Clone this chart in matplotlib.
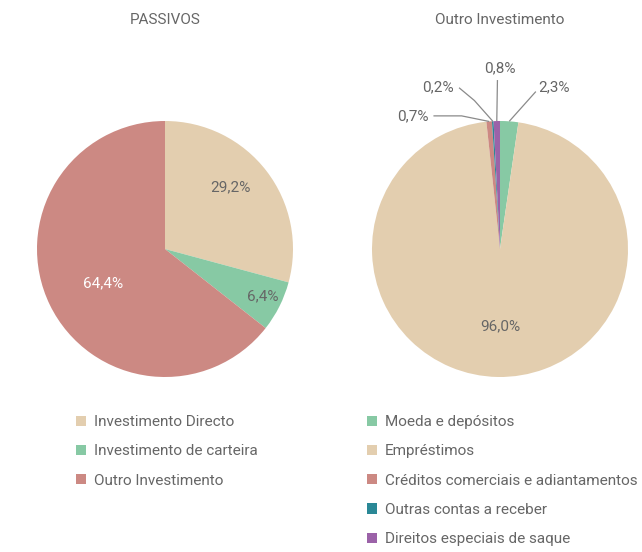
import matplotlib
matplotlib.use("Agg")
import matplotlib.pyplot as plt
from matplotlib.patches import Patch
import numpy as np

plt.rcParams["font.family"] = ["Roboto", "DejaVu Sans"]

# data
left_title = "PASSIVOS"
left_labels = ["Investimento Directo", "Investimento de carteira", "Outro Investimento"]
left_values = [29.2, 6.4, 64.4]

right_title = "Outro Investimento"
right_labels = ["Moeda e depósitos", "Empréstimos", "Créditos comerciais e adiantamentos",
                "Outras contas a receber", "Direitos especiais de saque"]
right_values = [2.3, 96.0, 0.7, 0.2, 0.8]

BEIGE = "#E3CEAF"
GREEN = "#87C9A4"
ROSE = "#CC8983"
TEAL = "#2A8896"
PURPLE = "#9B62A8"
TXT = "#666666"

left_colors = [BEIGE, GREEN, ROSE]
right_colors = [GREEN, BEIGE, ROSE, TEAL, PURPLE]

W, H = 642, 552
R = 128.0  # pie radius in px
SPAN = 1.5
FS = 11
fig = plt.figure(figsize=(W / 100, H / 100), dpi=100)


def pie_axes(cx, cy):
    # cx, cy in pixels from top-left
    size = 2 * SPAN * R
    return fig.add_axes([(cx - size / 2) / W, (H - cy - size / 2) / H, size / W, size / H])


def fix_axes(ax):
    ax.set_xlim(-SPAN, SPAN)
    ax.set_ylim(-SPAN, SPAN)
    ax.set_aspect("equal")
    ax.axis("off")


def fmt(v):
    return f"{v:.1f}".replace(".", ",") + "%"


def mid_angles(values):
    total = sum(values)
    out = []
    start = 90.0
    for v in values:
        span = v / total * 360
        out.append(np.deg2rad(start - span / 2))
        start -= span
    return out


# left pie
axl = pie_axes(165, 249)
axl.pie(left_values, colors=left_colors, startangle=90, counterclock=False,
        radius=1, wedgeprops=dict(linewidth=0))
fix_axes(axl)
l_pos = [(0.51, 0.48), (0.76, -0.37), (-0.48, -0.27)]
l_col = [TXT, TXT, "white"]
for (x, y), v, c in zip(l_pos, left_values, l_col):
    axl.text(x, y, fmt(v), ha="center", va="center", fontsize=FS, color=c)

# right pie
axr = pie_axes(500, 249)
axr.pie(right_values, colors=right_colors, startangle=90, counterclock=False,
        radius=1, wedgeprops=dict(linewidth=0))
fix_axes(axr)
angs = mid_angles(right_values)
axr.text(0, -0.60, fmt(right_values[1]), ha="center", va="center", fontsize=FS, color=TXT)

# outside labels: (elbow, end, text pos, ha)
outside = {
    0: ((0.28, 1.23), (0.28, 1.23), (0.30, 1.26), "left"),
    4: ((-0.02, 1.32), (-0.02, 1.32), (0.0, 1.41), "center"),
    3: ((-0.20, 1.16), (-0.32, 1.26), (-0.36, 1.26), "right"),
    2: ((-0.30, 1.04), (-0.52, 1.04), (-0.56, 1.04), "right"),
}
for i, (elb, end, tp, ha) in outside.items():
    a = angs[i]
    sx, sy = np.cos(a), np.sin(a)
    axr.plot([sx, elb[0], end[0]], [sy, elb[1], end[1]], color="#8a8a8a", lw=0.9,
             solid_capstyle="butt")
    axr.text(tp[0], tp[1], fmt(right_values[i]), ha=ha, va="center", fontsize=FS, color=TXT)

# titles
fig.text(165 / W, 1 - 20 / H, left_title, ha="center", va="center", fontsize=FS, color=TXT)
fig.text(500 / W, 1 - 20 / H, right_title, ha="center", va="center", fontsize=FS, color=TXT)

# legends
def legend(labels, colors, x, y):
    handles = [Patch(facecolor=c, edgecolor="none", label=l) for l, c in zip(labels, colors)]
    fig.legend(handles=handles, loc="upper left", bbox_to_anchor=(x / W, 1 - y / H),
               frameon=False, fontsize=FS, handlelength=0.65, handleheight=0.65,
               handletextpad=0.5, labelspacing=1.0, borderaxespad=0, borderpad=0,
               labelcolor=TXT)

legend(left_labels, left_colors, 76, 415)
legend(right_labels, right_colors, 367, 415)

fig.savefig("out.png", dpi=100)
